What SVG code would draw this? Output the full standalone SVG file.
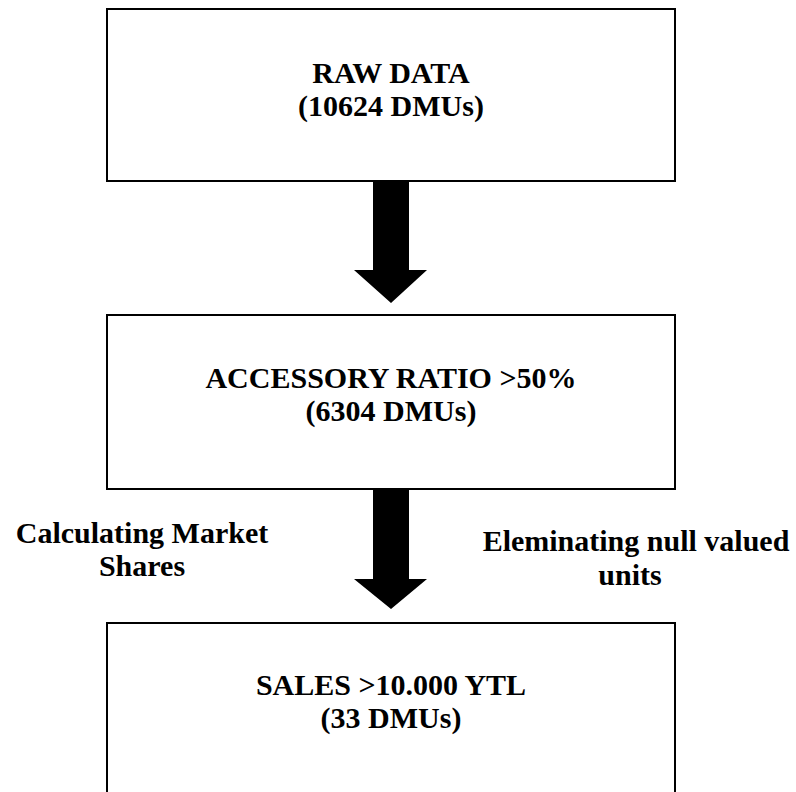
<svg xmlns="http://www.w3.org/2000/svg" width="796" height="792" viewBox="0 0 796 792">
<style>
.box{fill:#fff;stroke:#000;stroke-width:2}
.t{font-family:"Liberation Serif","Times New Roman",serif;font-weight:bold;font-size:30px;fill:#000;text-anchor:middle}
.arr{fill:#000;stroke:none}
</style>
<rect width="796" height="792" fill="#fff"/>
<g id="node-raw">
<rect class="box" x="107" y="9" width="568" height="172"/>
<text class="t" x="391" y="83">RAW DATA</text>
<text class="t" x="391" y="116">(10624 DMUs)</text>
</g>
<g id="node-accessory">
<rect class="box" x="107" y="315" width="568" height="174"/>
<text class="t" x="391" y="388">ACCESSORY RATIO &gt;50%</text>
<text class="t" x="391" y="421">(6304 DMUs)</text>
</g>
<g id="node-sales">
<rect class="box" x="107" y="623" width="568" height="200"/>
<text class="t" x="391" y="695">SALES &gt;10.000 YTL</text>
<text class="t" x="391" y="728">(33 DMUs)</text>
</g>
<g id="connectors">
<polygon class="arr" points="373,182 409,182 409,270 427,270 391,303 354,270 373,270"/>
<polygon class="arr" points="373,490 409,490 409,579 427,579 391,609 354,579 373,579"/>
</g>
<g id="labels">
<text class="t" x="142" y="543">Calculating Market</text>
<text class="t" x="142" y="576">Shares</text>
<text class="t" x="636" y="551">Eleminating null valued</text>
<text class="t" x="630" y="585">units</text>
</g>
</svg>
